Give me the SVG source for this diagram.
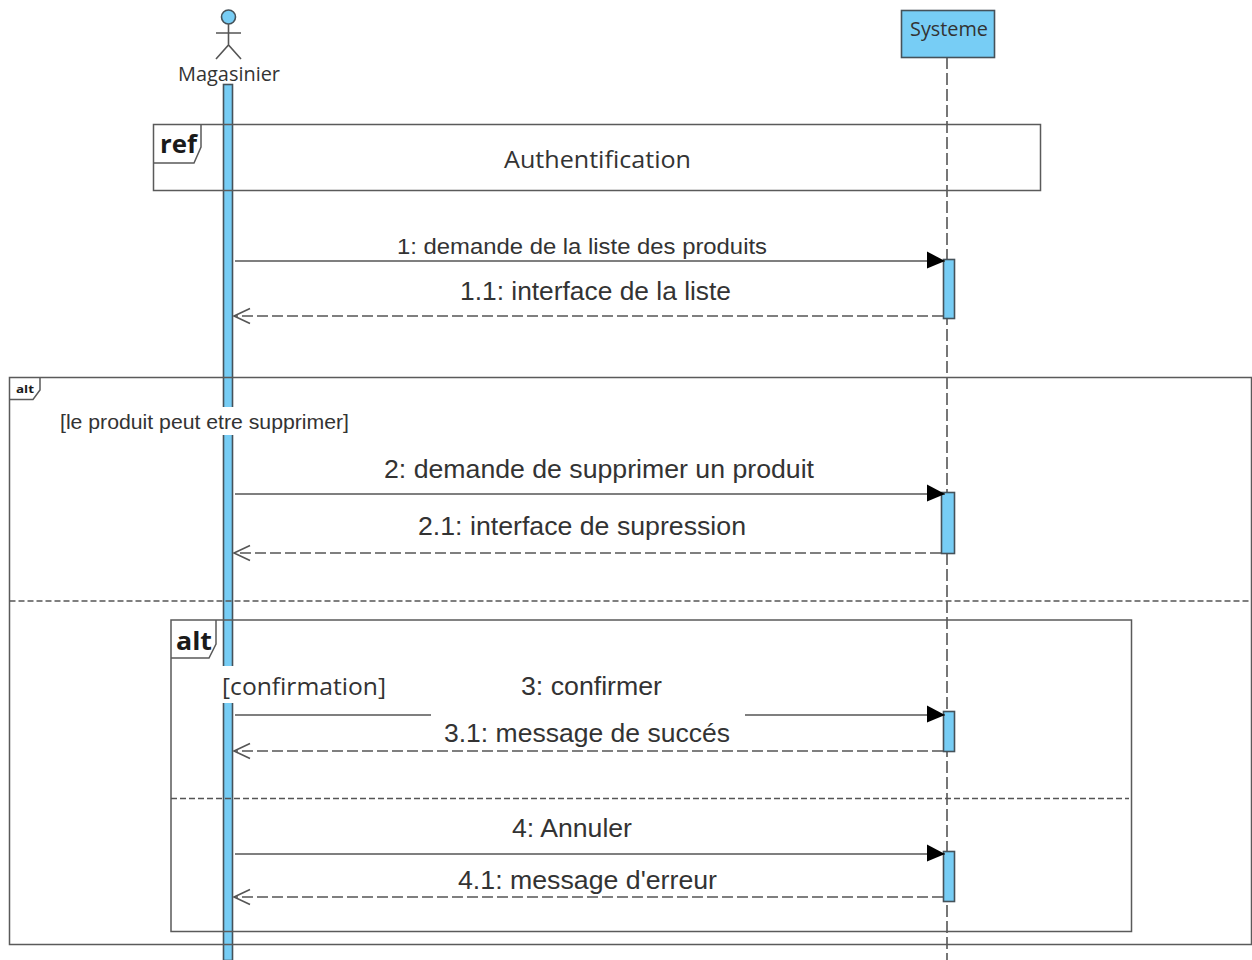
<svg xmlns="http://www.w3.org/2000/svg" width="1252" height="960" viewBox="0 0 1252 960">
<style>
.f{fill:none;stroke:#5a5a5a;stroke-width:1.5}
.a{fill:#77cdf5;stroke:#45525a;stroke-width:1.6}
.m{fill:none;stroke:#555;stroke-width:1.6}
.d{fill:none;stroke:#555;stroke-width:1.6;stroke-dasharray:11 4}
.v{fill:none;stroke:#555;stroke-width:1.6;stroke-dasharray:12 4}
.s{fill:none;stroke:#555;stroke-width:1.5;stroke-dasharray:6 3}
.o{font-family:"Open Sans","Noto Sans",sans-serif;fill:#333}
.l{font-family:"Liberation Sans",Arial,sans-serif;fill:#333}
.b{font-family:"Open Sans","Noto Sans",sans-serif;font-weight:700;fill:#1a1a1a}
</style>
<defs>
<marker id="solid" markerUnits="userSpaceOnUse" markerWidth="24" markerHeight="24" refX="21" refY="12" orient="auto"><path d="M3 2.500L21 12L3 19.500Z" fill="#000"/></marker>
<marker id="open" markerUnits="userSpaceOnUse" markerWidth="24" markerHeight="24" refX="20" refY="12" orient="auto"><path d="M4 4.500L20 12L4 19.500" fill="none" stroke="#555" stroke-width="1.600"/></marker>
</defs>
<rect width="1252" height="960" fill="#fff"/>
<g id="lifeline-systeme"><line x1="947" y1="57" x2="947" y2="960" class="v"/></g>
<g id="lifeline-magasinier"><rect x="223.500" y="84.500" width="9" height="876" class="a"/></g>
<g id="frame-ref">
<rect x="153.500" y="124.500" width="887" height="66" class="f"/>
<path d="M153.500 163H194L201 147V124.500" class="f"/>
<text x="160" y="153" font-size="25" class="b" textLength="37" lengthAdjust="spacingAndGlyphs">ref</text>
<text x="504" y="168" font-size="24" class="o" textLength="187" lengthAdjust="spacingAndGlyphs">Authentification</text>
</g>
<g id="frame-alt-outer">
<rect x="9.500" y="377.500" width="1242" height="567" class="f"/>
<path d="M9.500 399.500H33L40 390V377.500" class="f"/>
<text x="16" y="393" font-size="11" class="b" textLength="18" lengthAdjust="spacingAndGlyphs">alt</text>
<line x1="9.500" y1="601" x2="1251" y2="601" class="s"/>
<rect x="60" y="407" width="290" height="28" fill="#fff"/>
<text x="60" y="429" font-size="20" class="l" textLength="289" lengthAdjust="spacingAndGlyphs">[le produit peut etre supprimer]</text>
</g>
<g id="frame-alt-inner">
<rect x="171" y="620" width="960.500" height="311.500" class="f"/>
<path d="M171 658H209L216 644V620" class="f"/>
<text x="176" y="650" font-size="25" class="b" textLength="36" lengthAdjust="spacingAndGlyphs">alt</text>
<line x1="171" y1="798.500" x2="1129" y2="798.500" class="s"/>
<rect x="221" y="666" width="166" height="37" fill="#fff"/>
<text x="222" y="695" font-size="24" class="o" textLength="164" lengthAdjust="spacingAndGlyphs">[confirmation]</text>
</g>
<g id="activations">
<rect id="act1" x="943.500" y="259.500" width="11" height="59" class="a"/>
<rect id="act2" x="941.500" y="492.500" width="13" height="61" class="a"/>
<rect id="act3" x="943.500" y="711.500" width="11" height="40" class="a"/>
<rect id="act4" x="943.500" y="851.500" width="11" height="50" class="a"/>
</g>
<g id="connectors">
<line x1="235" y1="261" x2="945" y2="261" class="m" marker-end="url(#solid)"/>
<line x1="943" y1="316" x2="234" y2="316" class="d" marker-end="url(#open)"/>
<line x1="235" y1="494" x2="945" y2="494" class="m" marker-end="url(#solid)"/>
<line x1="941" y1="553" x2="234" y2="553" class="d" marker-end="url(#open)"/>
<line x1="235" y1="715" x2="431" y2="715" class="m"/>
<line x1="745" y1="715" x2="945" y2="715" class="m" marker-end="url(#solid)"/>
<line x1="943" y1="751" x2="234" y2="751" class="d" marker-end="url(#open)"/>
<line x1="235" y1="854" x2="945" y2="854" class="m" marker-end="url(#solid)"/>
<line x1="943" y1="897" x2="234" y2="897" class="d" marker-end="url(#open)"/>
</g>
<g id="actor-magasinier">
<circle cx="228.500" cy="17" r="7" class="a"/>
<path d="M228.500 24V45M216 33H241M216 59L228.500 45L241 59" class="m"/>
<text x="178" y="81" font-size="20" class="o" textLength="102" lengthAdjust="spacingAndGlyphs">Magasinier</text>
</g>
<g id="node-systeme">
<rect x="901.500" y="10.500" width="93" height="47" class="a"/>
<text x="910" y="36" font-size="20" class="o" textLength="78" lengthAdjust="spacingAndGlyphs">Systeme</text>
</g>
<g id="labels">
<text x="397" y="254" font-size="22" class="l" textLength="370" lengthAdjust="spacingAndGlyphs">1: demande de la liste des produits</text>
<text x="460" y="300" font-size="25" class="l" textLength="271" lengthAdjust="spacingAndGlyphs">1.1: interface de la liste</text>
<text x="384" y="478" font-size="25" class="l" textLength="430" lengthAdjust="spacingAndGlyphs">2: demande de supprimer un produit</text>
<text x="418" y="535" font-size="25" class="l" textLength="328" lengthAdjust="spacingAndGlyphs">2.1: interface de supression</text>
<text x="521" y="695" font-size="25" class="l" textLength="141" lengthAdjust="spacingAndGlyphs">3: confirmer</text>
<text x="444" y="742" font-size="25" class="l" textLength="286" lengthAdjust="spacingAndGlyphs">3.1: message de succés</text>
<text x="512" y="837" font-size="25" class="l" textLength="120" lengthAdjust="spacingAndGlyphs">4: Annuler</text>
<text x="458" y="889" font-size="25" class="l" textLength="259" lengthAdjust="spacingAndGlyphs">4.1: message d'erreur</text>
</g>
</svg>
